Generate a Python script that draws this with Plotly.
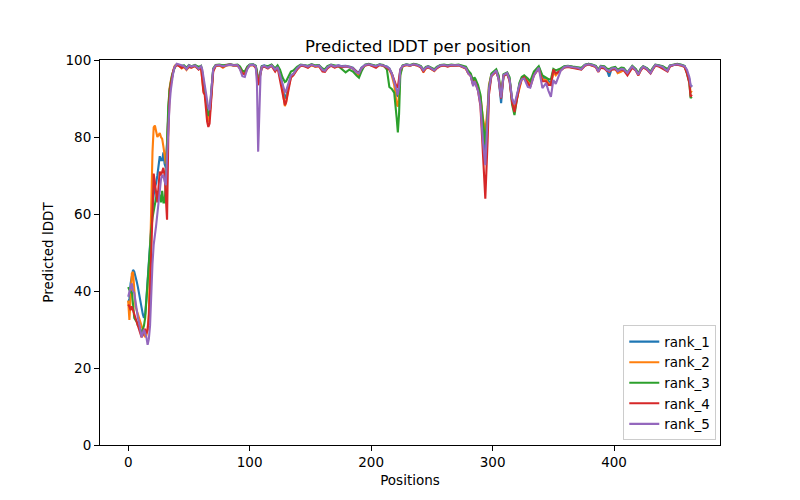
import plotly.graph_objects as go

positions = list(range(0, 41)) + [
    42, 44, 46, 48, 50, 52, 55, 58, 60, 61,
    62, 63, 64, 65, 66, 67, 68, 69, 70, 72,
    75, 78, 81, 84, 87, 90, 92, 94, 96, 98,
    100, 103, 105, 106, 107, 108, 109, 110, 112, 115,
    118, 121, 123, 125, 127, 129, 130, 132, 134, 136,
    139, 142, 145, 148, 151, 154, 157, 160, 162, 164,
    167, 170, 173, 176, 179, 182, 185, 188, 190, 192,
    195, 198, 201, 204, 207, 210, 213, 215, 217, 219,
    221, 222, 223, 224, 226, 229, 232, 235, 238, 241,
    243, 245, 247, 250, 252, 254, 257, 260, 263, 266,
    269, 272, 275, 278, 280, 282, 284, 285, 286, 288,
    290, 292, 294, 296, 297, 299, 301, 303, 305, 307,
    309, 312, 314, 316, 318, 320, 322, 324, 326, 329,
    331, 334, 336, 338, 341, 344, 346, 348, 350, 352,
    354, 356, 359, 362, 366, 370, 373, 376, 379, 382,
    385, 387, 389, 392, 394, 396, 398, 401, 403, 406,
    408, 411, 413, 415, 418, 420, 422, 424, 427, 430,
    432, 434, 437, 440, 442, 444, 446, 449, 452, 455,
    458, 460, 462, 463, 464,
]

rank_1 = [
    37, 38, 42, 44.5, 45.5, 45, 44, 42.5, 41, 39, 37, 35, 34, 33, 34, 38, 42, 47, 52, 57,
    62, 65, 67, 68, 70, 72, 75, 74, 74, 76, 73, 72, 80, 88, 92, 94, 95.5, 97, 98, 98.6, 98.8,
    98.6, 98.3, 98.5, 97.8, 98.5, 98.2, 98.6, 97.8, 98.3, 96.5,
    93.5, 92.0, 89.5, 86.5, 85.0, 86.0, 89.0, 94.0, 97.5, 98.6,
    98.7, 98.5, 98.7, 98.8, 98.6, 98.7, 98.0, 96.8, 96.6, 98.0,
    98.7, 98.8, 98.4, 97.0, 94.5, 96.0, 97.5, 98.4, 98.6, 98.2,
    98.7, 97.6, 98.4, 96.5, 93.5, 90.0, 90.5, 93.5, 96.0, 96.4,
    97.8, 98.7, 98.6, 98.3, 98.8, 98.4, 98.6, 97.5, 97.3, 98.2,
    98.7, 98.3, 98.6, 98.4, 98.5, 98.3, 98.0, 97.0, 96.8, 98.0,
    98.7, 98.9, 98.7, 98.4, 98.8, 98.6, 98.3, 97.8, 96.5, 94.5,
    91.0, 90.5, 93.5, 97.5, 98.5, 98.8, 98.6, 98.9, 98.7, 98.3,
    97.2, 98.0, 98.3, 97.6, 97.3, 98.0, 98.6, 98.7, 98.5, 98.7,
    98.6, 98.7, 98.3, 98.0, 96.8, 96.2, 94.0, 95.0, 94.5, 93.0,
    90.0, 82.0, 75.3, 84.0, 92.0, 96.0, 96.8, 97.4, 95.0, 88.8,
    96.0, 96.6, 95.0, 90.0, 87.5, 90.5, 93.5, 95.3, 95.7, 94.8,
    93.8, 96.5, 97.5, 98.2, 95.5, 95.0, 94.5, 94.0, 97.0, 96.5,
    97.0, 97.6, 98.3, 98.4, 98.2, 98.0, 97.7, 98.7, 99.0, 98.7,
    98.4, 97.1, 98.3, 98.2, 97.5, 95.7, 97.8, 98.0, 97.2, 97.8,
    97.7, 96.6, 97.5, 98.3, 97.5, 96.3, 97.6, 98.3, 97.8, 96.8,
    97.8, 98.7, 98.5, 98.3, 97.8, 97.4, 98.5, 98.8, 98.9, 98.7,
    98.4, 97.0, 95.0, 93.0, 93.5,
]

rank_2 = [
    37.5, 32.5, 38, 44.5, 45, 40, 36, 35, 34, 33, 32, 31, 30, 28.5, 28, 28.5, 30, 34, 45, 62,
    76, 82.5, 83, 81, 80, 80.5, 81, 80, 79.5, 77.5, 75, 73, 78, 88, 92.5, 94.5, 96, 97, 98.3, 98.7, 98.9,
    98.5, 97.8, 98.2, 97.4, 98.3, 98.0, 98.4, 97.6, 98.0, 95.5,
    92.0, 91.5, 88.5, 85.5, 84.0, 85.0, 88.5, 93.5, 97.2, 98.4,
    98.6, 98.0, 98.6, 98.7, 98.5, 98.6, 97.8, 96.6, 96.4, 97.8,
    98.6, 98.7, 98.2, 96.5, 94.0, 95.5, 97.2, 98.2, 98.4, 98.0,
    98.6, 97.2, 98.2, 96.0, 92.5, 88.0, 89.0, 93.0, 95.5, 96.2,
    97.6, 98.6, 98.5, 98.1, 98.7, 98.2, 98.5, 97.3, 97.2, 98.0,
    98.6, 98.1, 98.5, 98.2, 98.4, 98.2, 97.8, 96.5, 96.0, 97.5,
    98.6, 98.8, 98.6, 98.3, 98.7, 98.5, 98.0, 97.6, 96.0, 93.5,
    88.5, 87.9, 91.0, 96.5, 98.4, 98.7, 98.5, 98.8, 98.6, 98.2,
    96.8, 97.8, 98.2, 97.4, 97.1, 97.9, 98.5, 98.6, 98.4, 98.6,
    98.5, 98.6, 98.2, 97.8, 96.5, 96.0, 93.5, 94.8, 94.2, 92.5,
    90.5, 85.0, 81.3, 88.0, 93.5, 96.2, 96.6, 97.2, 95.5, 90.5,
    96.0, 96.5, 94.8, 89.5, 87.5, 90.0, 93.2, 95.0, 95.5, 94.5,
    93.5, 96.2, 97.3, 98.0, 95.0, 94.8, 94.0, 93.5, 96.8, 96.0,
    96.8, 97.4, 98.2, 98.3, 98.0, 97.9, 97.6, 98.6, 98.9, 98.6,
    98.2, 97.0, 98.2, 98.0, 97.4, 97.0, 97.6, 97.8, 96.6, 97.0,
    97.5, 96.3, 97.3, 98.2, 97.3, 96.1, 97.4, 98.2, 97.6, 96.6,
    97.7, 98.6, 98.4, 98.0, 97.6, 97.2, 98.4, 98.7, 98.8, 98.6,
    98.3, 96.8, 94.5, 91.5, 92.0,
]

rank_3 = [
    41, 40, 39.5, 40, 37, 33, 32.5, 32, 31, 31, 30, 29, 30, 31, 33, 38, 44, 49, 52.5, 56,
    59, 61, 63, 64, 66, 64, 65, 63, 66, 63, 63, 68, 80, 88, 92, 94.5, 96, 97, 98, 98.5, 98.8,
    98.7, 98.5, 98.6, 98.0, 98.7, 98.4, 98.7, 98.2, 98.5, 97.0,
    94.5, 92.5, 90.0, 87.0, 85.5, 86.0, 89.5, 94.5, 97.8, 98.7,
    98.8, 98.6, 98.8, 98.9, 98.7, 98.8, 98.3, 97.2, 97.0, 98.3,
    98.8, 98.9, 98.5, 97.0, 93.5, 95.5, 97.0, 98.3, 98.5, 98.4,
    98.8, 97.8, 98.6, 97.5, 95.5, 94.3, 94.5, 96.0, 97.0, 97.3,
    98.2, 98.8, 98.7, 98.5, 98.9, 98.6, 98.7, 97.8, 97.6, 98.4,
    98.8, 98.5, 98.4, 97.6, 96.8, 97.5, 97.0, 96.0, 95.4, 97.0,
    98.8, 99.0, 98.8, 98.5, 98.9, 98.7, 97.5, 93.0, 92.5, 91.5,
    85.0, 81.2, 86.0, 96.0, 98.6, 98.9, 98.7, 99.0, 98.8, 98.4,
    97.5, 98.2, 98.4, 97.8, 97.6, 98.2, 98.7, 98.8, 98.6, 98.8,
    98.7, 98.8, 98.5, 98.3, 97.2, 96.5, 94.5, 95.5, 95.0, 93.5,
    91.0, 84.0, 78.0, 87.0, 93.0, 96.5, 97.0, 97.6, 96.0, 91.0,
    96.3, 96.8, 95.5, 88.5, 85.7, 89.5, 94.0, 95.6, 96.0, 95.2,
    94.5, 97.0, 97.8, 98.4, 96.0, 95.5, 95.0, 95.0, 97.7, 97.3,
    97.5, 97.8, 98.4, 98.5, 98.3, 98.2, 98.0, 98.8, 99.0, 98.8,
    98.5, 97.5, 98.5, 98.4, 97.8, 97.6, 98.0, 98.2, 97.5, 98.0,
    97.9, 96.8, 97.6, 98.5, 97.6, 96.5, 97.8, 98.4, 97.9, 97.0,
    98.0, 98.8, 98.6, 98.4, 98.0, 97.6, 98.6, 98.9, 99.0, 98.8,
    98.5, 96.5, 94.0, 90.1, 90.5,
]

rank_4 = [
    36.5, 36, 35, 36, 35, 34, 33.5, 32, 31, 30, 29, 28, 28.5, 30, 30, 29, 30, 33, 40, 50,
    60, 70.5, 68, 65, 63, 67, 71, 70, 71, 72, 70, 63, 58.5, 80, 90, 93.5, 95.5, 97, 98, 98.5, 98.7,
    98.4, 98.0, 98.3, 97.6, 98.2, 98.0, 98.5, 97.5, 98.0, 94.5,
    91.5, 91.0, 87.0, 84.0, 82.6, 83.5, 88.0, 93.0, 97.0, 98.5,
    98.6, 98.2, 98.7, 98.8, 98.6, 98.6, 97.8, 96.5, 96.3, 97.8,
    98.6, 98.7, 98.0, 96.0, 93.5, 95.0, 97.0, 98.0, 98.3, 97.8,
    98.5, 97.0, 98.0, 95.0, 91.5, 88.3, 89.0, 92.5, 95.5, 96.0,
    97.5, 98.5, 98.4, 98.0, 98.7, 98.3, 98.4, 97.0, 96.9, 97.8,
    98.5, 98.0, 98.4, 98.1, 98.3, 98.1, 97.8, 97.0, 96.5, 97.8,
    98.6, 98.8, 98.5, 98.0, 98.7, 98.5, 98.0, 97.5, 96.5, 95.0,
    93.0, 93.0, 95.0, 97.5, 98.4, 98.7, 98.5, 98.8, 98.6, 98.0,
    97.0, 97.8, 98.1, 97.5, 97.2, 97.8, 98.4, 98.6, 98.3, 98.6,
    98.5, 98.6, 98.1, 97.8, 96.5, 95.8, 93.5, 94.5, 94.0, 92.0,
    88.0, 75.0, 64.0, 80.0, 91.0, 95.8, 96.5, 97.0, 95.0, 90.0,
    95.8, 96.4, 94.5, 89.0, 86.5, 89.5, 93.0, 95.0, 95.5, 94.0,
    93.0, 96.0, 97.0, 97.8, 94.5, 94.5, 93.5, 93.5, 97.5, 96.5,
    96.8, 97.2, 98.0, 98.2, 97.9, 97.8, 97.5, 98.5, 98.8, 98.5,
    98.2, 96.9, 98.0, 97.8, 97.2, 97.0, 97.5, 97.6, 97.0, 97.5,
    97.3, 96.0, 97.0, 98.0, 97.2, 96.0, 97.3, 98.1, 97.5, 96.5,
    97.6, 98.5, 98.3, 97.8, 97.4, 97.0, 98.3, 98.7, 98.8, 98.6,
    98.2, 96.5, 94.0, 90.5, 91.0,
]

rank_5 = [
    38.5, 40, 41, 42, 40, 39.5, 37, 34.3, 33, 31.7, 30, 28, 29, 30, 29, 28, 26, 27.5, 31, 41,
    47, 52, 54, 57, 60, 63, 66, 69, 70, 70, 68.5, 67.5, 75, 83, 88, 92, 95, 96.5, 98, 98.7, 99,
    98.8, 98.5, 98.4, 97.6, 98.6, 98.3, 98.6, 97.7, 98.4, 97.5,
    95.5, 94.0, 91.5, 89.0, 87.5, 87.0, 90.0, 94.5, 97.6, 98.6,
    98.7, 98.4, 98.7, 98.8, 98.6, 98.7, 97.6, 95.8, 95.6, 97.6,
    98.7, 98.8, 98.3, 94.0, 76.2, 90.0, 96.5, 98.2, 98.5, 98.0,
    98.6, 97.5, 98.2, 96.0, 93.5, 91.7, 92.0, 94.0, 96.0, 96.4,
    97.8, 98.7, 98.6, 98.3, 98.8, 98.4, 98.6, 97.4, 97.2, 98.1,
    98.7, 98.3, 98.6, 98.3, 98.4, 98.2, 97.8, 96.8, 96.5, 97.8,
    98.7, 98.9, 98.7, 98.4, 98.8, 98.6, 98.2, 97.8, 96.5, 94.0,
    91.5, 91.0, 93.0, 97.5, 98.5, 98.8, 98.6, 98.9, 98.7, 98.2,
    97.3, 98.0, 98.3, 97.6, 97.3, 98.0, 98.6, 98.7, 98.5, 98.7,
    98.6, 98.7, 98.3, 97.9, 96.5, 95.8, 93.2, 94.5, 93.8, 92.0,
    88.5, 79.0, 72.7, 84.0, 92.5, 96.0, 96.8, 97.3, 95.0, 90.2,
    96.1, 96.6, 94.8, 90.0, 88.5, 91.0, 93.5, 95.0, 95.2, 93.0,
    92.8, 96.0, 97.2, 98.0, 92.7, 94.0, 92.0, 90.4, 94.8, 93.8,
    95.5, 97.2, 98.2, 98.4, 98.1, 98.0, 97.6, 98.7, 98.9, 98.7,
    98.3, 97.0, 98.3, 98.1, 97.4, 97.2, 97.8, 97.9, 97.1, 97.7,
    97.6, 96.6, 97.6, 98.3, 97.3, 96.2, 97.5, 98.3, 97.7, 96.6,
    97.8, 98.7, 98.5, 98.2, 97.6, 97.2, 98.5, 98.8, 98.9, 98.7,
    98.4, 97.5, 95.5, 93.5, 93.0,
]

series_names = ["rank_1", "rank_2", "rank_3", "rank_4", "rank_5"]
series_values = [rank_1, rank_2, rank_3, rank_4, rank_5]
colors = ["#1f77b4", "#ff7f0e", "#2ca02c", "#d62728", "#9467bd"]
x_ticks = [0, 100, 200, 300, 400]
y_ticks = [0, 20, 40, 60, 80, 100]

FONT = "DejaVu Sans"

fig = go.Figure()
for name, vals, col in zip(series_names, series_values, colors):
    n = min(len(positions), len(vals))
    fig.add_trace(go.Scatter(
        x=positions[:n], y=vals[:n], mode="lines", name=name,
        line=dict(color=col, width=2.1),
    ))

axis_common = dict(
    showgrid=False, zeroline=False, showline=True, linecolor="black",
    linewidth=1.1, mirror=True, ticks="outside", ticklen=5, tickwidth=1.1,
    tickcolor="black", tickfont=dict(family=FONT, size=13.5, color="black"),
)

# The page body has an 8px margin, so the figure is drawn offset by (8, 8).
fig.update_layout(
    width=800, height=500,
    margin=dict(l=92, r=88, t=52, b=63),
    paper_bgcolor="white", plot_bgcolor="white",
    font=dict(family=FONT, color="black"),
    title=dict(text="Predicted lDDT per position", x=0.5125, xanchor="center",
               y=0.924, yanchor="middle", yref="container",
               font=dict(family=FONT, size=16.5, color="black")),
    xaxis=dict(range=[-23.2, 487.2], tickvals=x_ticks,
               title=dict(text="Positions", standoff=6,
                          font=dict(family=FONT, size=13.5, color="black")),
               **axis_common),
    yaxis=dict(range=[0, 100], tickvals=y_ticks,
               title=dict(text="Predicted lDDT", standoff=8,
                          font=dict(family=FONT, size=13.5, color="black")),
               **axis_common),
    legend=dict(x=0.994, y=0.012, xanchor="right", yanchor="bottom",
                bgcolor="rgba(255,255,255,0.8)", bordercolor="#cccccc",
                borderwidth=1, font=dict(family=FONT, size=13.5, color="black"),
                itemwidth=30, tracegroupgap=0),
    showlegend=True,
)

fig.write_html("out.html")
